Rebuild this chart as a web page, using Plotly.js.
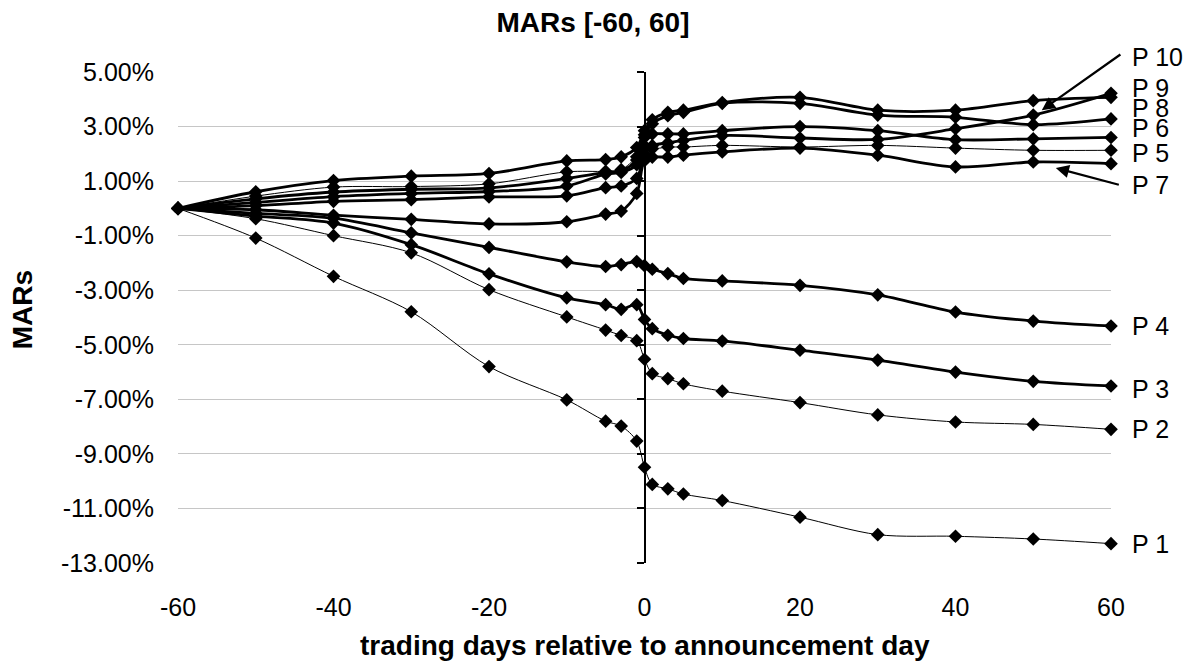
<!DOCTYPE html>
<html>
<head>
<meta charset="utf-8">
<script src="https://cdn.plot.ly/plotly-3.0.1.min.js"></script>
<style>
  html, body { margin: 0; padding: 0; background: #fff; }
  #chart { width: 1186px; height: 663px; }
</style>
</head>
<body>
<div id="chart"></div>
<script>
// ---- data ----
const days = [-60,-50,-40,-30,-20,-10,-5,-3,-1,0,1,3,5,10,20,30,40,50,60];

const P1  = [0,-1.09,-2.49,-3.79,-5.80,-7.02,-7.80,-7.98,-8.53,-9.49,-10.12,-10.28,-10.47,-10.71,-11.32,-11.96,-12.02,-12.12,-12.29];
const P2  = [0,-0.38,-1.00,-1.63,-2.98,-3.98,-4.46,-4.66,-4.85,-5.53,-6.06,-6.24,-6.43,-6.70,-7.12,-7.57,-7.83,-7.92,-8.10];
const P3  = [0,-0.28,-0.54,-1.33,-2.40,-3.28,-3.53,-3.70,-3.53,-4.07,-4.41,-4.65,-4.77,-4.86,-5.20,-5.56,-6.00,-6.34,-6.51];
const P4  = [0,-0.18,-0.36,-0.90,-1.43,-1.96,-2.13,-2.06,-1.95,-2.10,-2.23,-2.39,-2.57,-2.66,-2.82,-3.17,-3.80,-4.13,-4.31];
const P5  = [0,0.45,0.78,0.80,0.90,1.34,1.36,1.42,1.89,2.30,2.19,2.25,2.25,2.31,2.25,2.31,2.21,2.13,2.13];
const P6  = [0,0.22,0.43,0.55,0.62,0.82,1.26,1.32,1.60,2.60,2.73,2.73,2.73,2.85,3.00,2.85,2.52,2.55,2.60];
const P7  = [0,-0.05,-0.25,-0.40,-0.57,-0.49,-0.21,-0.10,0.55,1.75,1.88,1.88,1.95,2.07,2.21,1.95,1.52,1.70,1.64];
const P8  = [0,0.35,0.60,0.70,0.75,1.10,1.32,1.38,1.77,2.70,3.10,3.40,3.52,3.85,3.85,3.42,3.34,3.07,3.28];
const P9  = [0,0.61,1.02,1.18,1.28,1.74,1.79,1.89,2.23,2.85,3.25,3.52,3.60,3.88,4.07,3.60,3.60,3.95,4.07];
const P10 = [0,0.10,0.26,0.32,0.42,0.46,0.76,0.82,1.10,2.00,2.30,2.40,2.49,2.67,2.58,2.53,2.92,3.42,4.22];

const seriesNames = ["P 1","P 2","P 3","P 4","P 5","P 6","P 7","P 8","P 9","P 10"];
const seriesData  = [P1,P2,P3,P4,P5,P6,P7,P8,P9,P10];

const yTickVals = [-13,-11,-9,-7,-5,-3,-1,1,3,5];
const yTickText = ["-13.00%","-11.00%","-9.00%","-7.00%","-5.00%","-3.00%","-1.00%","1.00%","3.00%","5.00%"];
const xTickVals = [-60,-40,-20,0,20,40,60];
const xTickText = ["-60","-40","-20","0","20","40","60"];

// ---- style ----
const FONT = "Liberation Sans, Arial, Helvetica, sans-serif";
const Y_RANGE = [-13, 5];
const lineWidths = [1,1,2.8,2.8,1,2.8,2.8,2.8,2.8,2.8];
// label y positions (in axis units) for the right-hand series labels
const labelY = {"P 1":-12.29,"P 2":-8.10,"P 3":-6.62,"P 4":-4.31,"P 5":2.03,"P 6":2.94,"P 7":0.85,"P 8":3.67,"P 9":4.40,"P 10":5.54};
const toPaperY = v => (v - Y_RANGE[0]) / (Y_RANGE[1] - Y_RANGE[0]);

const traces = seriesData.map((vals, i) => ({
  x: days,
  y: vals,
  yaxis: i === 0 ? 'y2' : 'y',   // one series on the overlaid y2 so the x=0 axis line is drawn
  type: 'scatter',
  mode: 'lines+markers',
  name: seriesNames[i],
  line: {color: '#000', width: lineWidths[i], shape: 'spline', smoothing: 0.9},
  marker: {symbol: 'diamond', size: 10.5, color: '#000', line: {width: 0}},
  cliponaxis: false,
  showlegend: false
}));

const annotations = seriesNames.map(n => ({
  x: 1.0205, y: toPaperY(labelY[n]), xref: 'paper', yref: 'paper',
  text: n, showarrow: false, xanchor: 'left', yanchor: 'middle',
  font: {family: FONT, size: 25, color: '#000'}
}));

// arrows for P 10 and P 7
annotations.push({
  x: 51.1, y: 3.60, ax: 61.4, ay: 5.68, xref: 'x', yref: 'y', axref: 'x', ayref: 'y',
  text: '', showarrow: true, arrowhead: 2, arrowsize: 1.2, arrowwidth: 2.2, arrowcolor: '#000'
});
annotations.push({
  x: 52.9, y: 1.48, ax: 61.2, ay: 0.85, xref: 'x', yref: 'y', axref: 'x', ayref: 'y',
  text: '', showarrow: true, arrowhead: 2, arrowsize: 1.2, arrowwidth: 2.2, arrowcolor: '#000'
});

// axis titles
annotations.push({
  x: -0.167, y: 0.515, xref: 'paper', yref: 'paper', text: 'MARs', textangle: -90,
  showarrow: false, xanchor: 'center', yanchor: 'middle',
  font: {family: FONT, size: 28, color: '#000', weight: 'bold'}
});
annotations.push({
  x: 0.5, y: -0.169, xref: 'paper', yref: 'paper', text: 'trading days relative to announcement day',
  showarrow: false, xanchor: 'center', yanchor: 'middle',
  font: {family: FONT, size: 28, color: '#000', weight: 'bold'}
});

const layout = {
  width: 1186, height: 663,
  margin: {l: 178, r: 75, t: 72, b: 100},
  paper_bgcolor: '#fff', plot_bgcolor: '#fff',
  font: {family: FONT, color: '#000'},
  title: {
    text: 'MARs [-60, 60]', x: 0.5, xref: 'container', xanchor: 'center',
    y: 0.966, yref: 'container', yanchor: 'middle',
    font: {family: FONT, size: 28, color: '#000', weight: 'bold'}
  },
  xaxis: {
    range: [-60, 60], tickvals: xTickVals, ticktext: xTickText,
    showgrid: false, zeroline: false, showline: false,
    ticks: 'outside', ticklen: 22, tickcolor: 'rgba(0,0,0,0)',
    tickfont: {family: FONT, size: 25, color: '#000'}
  },
  yaxis: {
    range: Y_RANGE, tickvals: yTickVals, ticktext: yTickText,
    showgrid: true, gridcolor: '#c6c6c6', gridwidth: 1.2,
    zeroline: false, showline: false,
    ticks: 'outside', ticklen: 18, tickcolor: 'rgba(0,0,0,0)',
    tickfont: {family: FONT, size: 25, color: '#000'}
  },
  yaxis2: {
    range: Y_RANGE, tickvals: yTickVals, overlaying: 'y', anchor: 'free', position: 0.5,
    side: 'left', showline: true, linecolor: '#000', linewidth: 2.5,
    ticks: 'outside', ticklen: 7, tickwidth: 2, tickcolor: '#000',
    showticklabels: false, showgrid: false, zeroline: false
  },
  annotations: annotations,
  hovermode: false
};

Plotly.newPlot('chart', traces, layout, {staticPlot: true, displayModeBar: false});
</script>
</body>
</html>
